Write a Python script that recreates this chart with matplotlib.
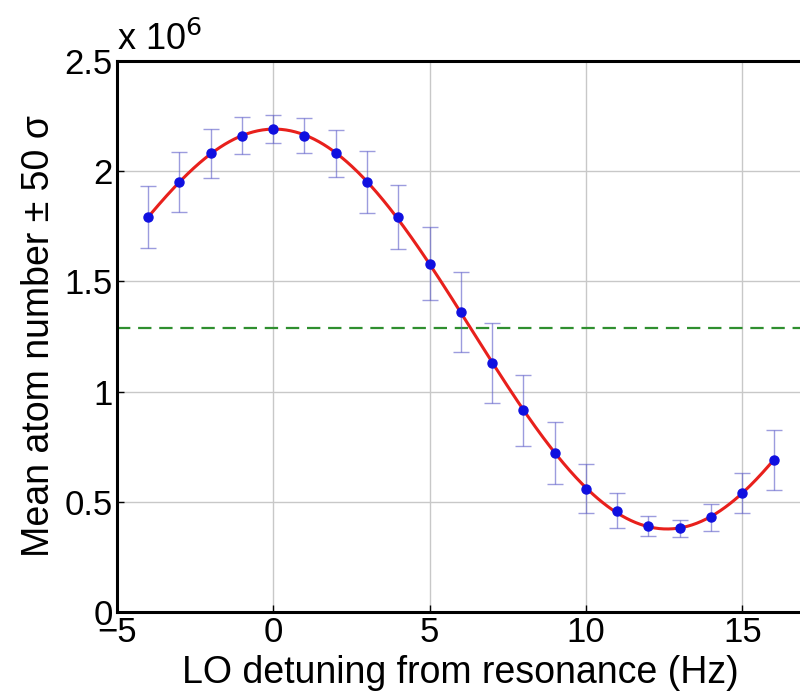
import matplotlib
matplotlib.use("Agg")
import matplotlib.pyplot as plt
import numpy as np

plt.rcParams['font.family'] = ['Liberation Sans', 'DejaVu Sans']

# data (atom numbers in units of 1e6)
detuning = np.arange(-4, 17, 1)
atoms = [1.79, 1.95, 2.08, 2.16, 2.19, 2.16, 2.08, 1.95, 1.79, 1.58, 1.36,
         1.13, 0.915, 0.72, 0.56, 0.46, 0.39, 0.38, 0.43, 0.54, 0.69]
errs = [0.14, 0.135, 0.11, 0.085, 0.065, 0.08, 0.105, 0.14, 0.145, 0.165, 0.18,
        0.18, 0.16, 0.14, 0.11, 0.08, 0.045, 0.04, 0.06, 0.09, 0.135]
threshold = 1.29
xticks = [-5, 0, 5, 10, 15]
yticks = [0, 0.5, 1, 1.5, 2, 2.5]
yticklabels = ['0', '0.5', '1', '1.5', '2', '2.5']

# smooth fit through the points
coef = np.polyfit(detuning, atoms, 5)
xfit = np.linspace(detuning[0], detuning[-1], 400)
yfit = np.polyval(coef, xfit)

fig = plt.figure(figsize=(8, 6.98), dpi=100)
ax = fig.add_axes([0.146, 0.123, 0.86, 0.79])

ax.grid(True, color='#c8c8c8', linewidth=1.0, zorder=0)
ax.axhline(threshold, color='#2f8f2f', linestyle=(0, (6, 3.5)), linewidth=1.6, zorder=2)
ax.errorbar(detuning, atoms, yerr=errs, fmt='none', ecolor='#5b5bc8', alpha=0.6,
            elinewidth=1.0, capsize=6, capthick=1.0, zorder=3)
ax.plot(xfit, yfit, color='#e8201c', linewidth=2.2, zorder=4)
ax.plot(detuning, atoms, 'o', color='#1010e0', markersize=6.5, zorder=5)

ax.set_xlim(-5, 17)
ax.set_ylim(0, 2.5)
ax.set_xticks(xticks)
ax.set_yticks(yticks)
ax.set_yticklabels(yticklabels)
ax.tick_params(direction='in', length=5, width=1, labelsize=25, pad=3)
for s in ax.spines.values():
    s.set_linewidth(2.2)

ax.set_xlabel('LO detuning from resonance (Hz)', fontsize=27, labelpad=4)
ax.set_ylabel('Mean atom number ± 50 σ', fontsize=27, labelpad=5)
ax.text(0.0, 1.005, r'x 10$^{6}$', transform=ax.transAxes, fontsize=26,
        ha='left', va='bottom')

fig.savefig('out.png', dpi=100)
